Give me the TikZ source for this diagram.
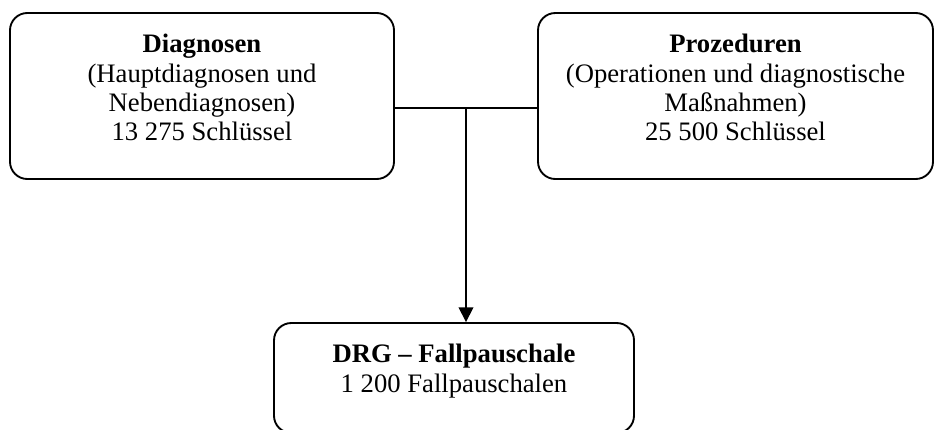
\documentclass[tikz,border=0pt]{standalone}
\usepackage{fontspec}
\setmainfont{Liberation Serif}
\usetikzlibrary{arrows.meta,positioning}
\tikzset{
  katbox/.style={draw,rounded corners=13pt,line width=1.4pt},
  kattext/.style={align=center,inner sep=0pt,font=\fontsize{20}{22}\selectfont},
  link/.style={line width=1.1pt},
  linkarrow/.style={link,-{Triangle[length=11pt,width=11pt]}}
}

\begin{document}
\begin{tikzpicture}[x=.75pt,y=-.75pt]
\useasboundingbox (0,0) rectangle (935,429);
% the two catalogues
\node[katbox,minimum width=288pt,minimum height=124.5pt] (diag) at (202,96) {};
\node[katbox,minimum width=296.25pt,minimum height=124.5pt] (proz) at (735.5,96) {};
\node[kattext,below=16.5pt of diag.north] (diagtxt) {\textbf{Diagnosen}\\(Hauptdiagnosen und\\Nebendiagnosen)\\13 275 Schlüssel};
\node[kattext,below=16.5pt of proz.north] (proztxt) {\textbf{Prozeduren}\\(Operationen und diagnostische\\Maßnahmen)\\25 500 Schlüssel};
% result
\node[katbox,minimum width=270pt,minimum height=82.5pt] (drg) at (454,378) {};
\node[kattext,below=16.5pt of drg.north] (drgtxt) {\textbf{DRG – Fallpauschale}\\1 200 Fallpauschalen};
\coordinate (mitte) at (466,108);
\draw[link] (mitte -| diag.east) -- (mitte -| proz.west);
\draw[linkarrow] (mitte) -- (mitte |- drg.north);
\end{tikzpicture}
\end{document}
